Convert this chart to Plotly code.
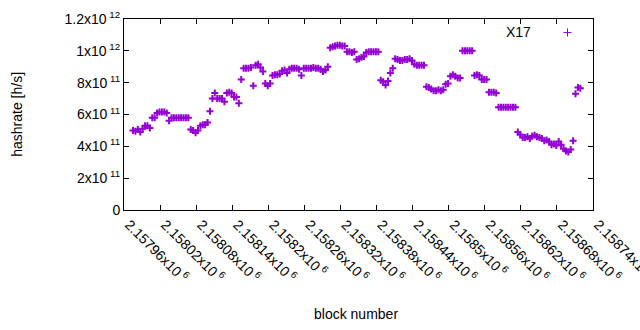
import plotly.graph_objects as go

# ---- data ----
first_block = 2157975
block_step = 4
# hashrate in units of 1e11 h/s, one sample every 4 blocks
hashrate_e11 = [
    5.0, 4.95, 5.05, 4.9, 5.1, 5.3, 5.3, 5.15, 5.8, 5.8,
    6.1, 6.15, 6.15, 6.15, 6.1, 5.6, 5.8, 5.8, 5.8, 5.8,
    5.8, 5.8, 5.8, 5.8, 5.05, 5.0, 4.85, 5.0, 5.3, 5.35,
    5.35, 5.5, 6.2, 7.0, 7.35, 7.0, 7.0, 7.0, 6.8, 7.35,
    7.4, 7.35, 7.1, 7.1, 6.7, 8.2, 8.9, 8.9, 8.9, 8.95,
    7.8, 9.1, 9.15, 8.95, 8.7, 7.95, 7.8, 7.95, 8.45, 8.5,
    8.5, 8.55, 8.75, 8.8, 8.6, 8.85, 8.9, 8.9, 8.9, 8.85,
    8.45, 8.9, 8.9, 8.9, 8.9, 8.95, 8.9, 8.9, 8.85, 8.7,
    8.8, 9.0, 10.2, 10.25, 10.3, 10.35, 10.35, 10.3, 10.3, 9.95,
    9.95, 9.9, 9.95, 9.45, 9.5, 9.6, 9.65, 9.9, 9.95, 9.95,
    9.95, 9.95, 9.95, 8.15, 8.05, 7.85, 8.1, 8.6, 8.9, 9.5,
    9.45, 9.4, 9.4, 9.45, 9.45, 9.5, 9.4, 9.15, 9.1, 9.1,
    9.1, 9.1, 7.75, 7.7, 7.6, 7.5, 7.5, 7.55, 7.5, 7.55,
    7.9, 7.95, 8.4, 8.5, 8.4, 8.3, 8.3, 10.0, 10.0, 10.0,
    10.0, 10.0, 8.45, 8.5, 8.45, 8.2, 8.2, 8.2, 7.4, 7.4,
    7.4, 7.35, 6.45, 6.45, 6.45, 6.45, 6.45, 6.45, 6.45, 6.45,
    4.9, 4.75, 4.55, 4.55, 4.6, 4.5, 4.65, 4.7, 4.6, 4.55,
    4.5, 4.35, 4.4, 4.3, 4.1, 4.15, 4.05, 4.3, 4.1, 3.85,
    3.7, 3.65, 3.8, 4.35, 7.3, 7.7, 7.65,
]
blocks = [first_block + block_step * i for i in range(len(hashrate_e11))]
hashrate = [v * 1e11 for v in hashrate_e11]

series_name = "X17"

x_tick_vals = [2157960 + 60 * k for k in range(14)]
x_tick_text = [
    "2.15796x10<sup> 6</sup>", "2.15802x10<sup> 6</sup>", "2.15808x10<sup> 6</sup>",
    "2.15814x10<sup> 6</sup>", "2.1582x10<sup> 6</sup>", "2.15826x10<sup> 6</sup>",
    "2.15832x10<sup> 6</sup>", "2.15838x10<sup> 6</sup>", "2.15844x10<sup> 6</sup>",
    "2.1585x10<sup> 6</sup>", "2.15856x10<sup> 6</sup>", "2.15862x10<sup> 6</sup>",
    "2.15868x10<sup> 6</sup>", "2.15874x10<sup> 6</sup>",
]
y_tick_vals = [0, 2e11, 4e11, 6e11, 8e11, 1e12, 1.2e12]
y_tick_text = [
    "0", "2x10<sup> 11</sup>", "4x10<sup> 11</sup>", "6x10<sup> 11</sup>",
    "8x10<sup> 11</sup>", "1x10<sup> 12</sup>", "1.2x10<sup> 12</sup>",
]

COLOR = "#9400D3"
FONT = "Liberation Sans, Arial, sans-serif"

fig = go.Figure()
fig.add_trace(go.Scatter(
    x=blocks, y=hashrate, mode="markers", name=series_name,
    marker=dict(symbol="cross-thin", size=5, color=COLOR,
                line=dict(color=COLOR, width=2)),
    showlegend=False, cliponaxis=False, hoverinfo="skip",
))

W, H = 640, 330
L, R, T, B = 124, 593, 19, 210.5

def px(xp):
    return (xp - L) / (R - L)

def py(yp):
    return (B - yp) / (B - T)

axis_common = dict(
    showline=True, linecolor="black", linewidth=1, mirror="ticks",
    ticks="inside", ticklen=5, tickcolor="black", tickwidth=1,
    showgrid=False, zeroline=False, automargin=False,
    ticklabeloverflow="allow",
    tickfont=dict(family=FONT, size=14, color="black"),
)

fig.update_layout(
    width=W, height=H,
    margin=dict(l=L, r=W - R, t=T, b=H - B),
    paper_bgcolor="white", plot_bgcolor="white",
    font=dict(family=FONT, size=14, color="black"),
    xaxis=dict(range=[2157960, 2158740.05], tickvals=x_tick_vals, ticktext=x_tick_text,
               tickangle=45, ticklabelshift=5, **axis_common),
    yaxis=dict(range=[0, 1.2e12], tickvals=y_tick_vals, ticktext=y_tick_text,
               **axis_common),
    annotations=[
        dict(text="hashrate [h/s]", xref="paper", yref="paper", x=px(17), y=py(115),
             xanchor="center", yanchor="middle",
             textangle=-90, showarrow=False, font=dict(size=14)),
        dict(text="block number", xref="paper", yref="paper", x=px(356), y=py(315),
             xanchor="center", yanchor="middle", showarrow=False, font=dict(size=14)),
        dict(text=series_name, xref="paper", yref="paper", x=px(533), y=py(32),
             xanchor="right", yanchor="middle", showarrow=False, font=dict(size=14)),
    ],
    shapes=[
        dict(type="line", xref="paper", yref="paper", x0=px(563.5), x1=px(571.5),
             y0=py(32.5), y1=py(32.5), line=dict(color=COLOR, width=1)),
        dict(type="line", xref="paper", yref="paper", x0=px(567.5), x1=px(567.5),
             y0=py(28.5), y1=py(36.5), line=dict(color=COLOR, width=1)),
    ],
)

fig.write_html(
    "out.html",
    config={"displayModeBar": False},
    post_script="document.body.style.margin='0';document.body.style.overflow='hidden';",
)
